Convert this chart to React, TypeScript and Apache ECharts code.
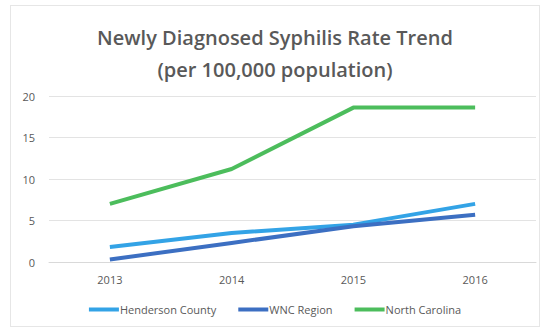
import React, { useEffect, useRef } from "react";
import * as echarts from "echarts";

const years = ["2013", "2014", "2015", "2016"];
const henderson = [1.8, 3.5, 4.5, 7.0];
const wnc = [0.3, 2.3, 4.3, 5.7];
const northCarolina = [7.0, 11.2, 18.6, 18.6];

export default function App() {
  const ref = useRef<HTMLDivElement>(null);
  useEffect(() => {
    const chart = echarts.init(ref.current!, null, { renderer: "svg" });
    const font = "'Open Sans', 'Noto Sans', sans-serif";
    chart.setOption({
      animation: false,
      backgroundColor: "#fff",
      title: {
        text: "Newly Diagnosed Syphilis Rate Trend\n(per 100,000 population)",
        left: "center",
        top: 10,
        textStyle: {
          fontFamily: font,
          fontSize: 20,
          fontWeight: 600,
          color: "#595959",
          lineHeight: 32,
        },
      },
      grid: { left: 38, right: 3, top: 90, bottom: 64 },
      xAxis: {
        type: "category",
        data: years,
        boundaryGap: true,
        axisLine: { lineStyle: { color: "#d9d9d9" } },
        axisTick: { show: false },
        axisLabel: { color: "#595959", fontFamily: font, fontSize: 11, margin: 12 },
      },
      yAxis: {
        type: "value",
        min: 0,
        max: 20,
        interval: 5,
        axisLine: { show: false },
        axisTick: { show: false },
        splitLine: { lineStyle: { color: "#e3e3e3" } },
        axisLabel: { color: "#595959", fontFamily: font, fontSize: 11, margin: 14 },
      },
      legend: {
        bottom: 6,
        left: "center",
        itemWidth: 30,
        itemHeight: 4,
        itemGap: 22,
        icon: "rect",
        textStyle: { color: "#595959", fontFamily: font, fontSize: 11, padding: [0, 0, 0, -4] },
        data: ["Henderson County", "WNC Region", "North Carolina"],
      },
      series: [
        {
          name: "Henderson County",
          type: "line",
          data: henderson,
          showSymbol: false,
          lineStyle: { width: 4, color: "#33a3e6" },
          itemStyle: { color: "#33a3e6" },
        },
        {
          name: "WNC Region",
          type: "line",
          data: wnc,
          showSymbol: false,
          lineStyle: { width: 4, color: "#3c6fc2" },
          itemStyle: { color: "#3c6fc2" },
        },
        {
          name: "North Carolina",
          type: "line",
          data: northCarolina,
          showSymbol: false,
          lineStyle: { width: 4, color: "#4cbd5c" },
          itemStyle: { color: "#4cbd5c" },
        },
      ],
    });
    return () => chart.dispose();
  }, []);
  return (
    <div
      style={{ position: "fixed", left: 0, top: 0, width: 546, height: 331, background: "#fff" }}
    >
      <div
        ref={ref}
        style={{
          position: "absolute",
          left: 10,
          top: 5,
          width: 528,
          height: 320,
          border: "1px solid #e6e6e6",
        }}
      />
    </div>
  );
}
